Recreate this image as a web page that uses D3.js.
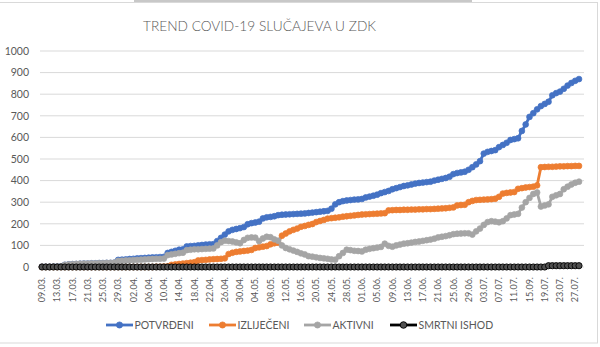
<!DOCTYPE html>
<html>
<head>
<meta charset="utf-8">
<script src="https://cdn.jsdelivr.net/npm/d3@7"></script>
<style>
  html, body { margin: 0; padding: 0; background: #fff; }
  svg { display: block; }
  text { font-family: Lato, "Liberation Sans", Arial, sans-serif; fill: #595959; }
</style>
</head>
<body>
<svg id="chart" width="600" height="347"></svg>
<script>
// ---------------- DATA ----------------
const categories = [
  "09.03.","10.03.","11.03.","12.03.","13.03.","14.03.","15.03.","16.03.","17.03.","18.03.","19.03.","20.03.","21.03.","22.03.","23.03.","24.03.","25.03.","26.03.","27.03.","28.03.","29.03.","30.03.","31.03.",
  "01.04.","02.04.","03.04.","04.04.","05.04.","06.04.","07.04.","08.04.","09.04.","10.04.","11.04.","12.04.","13.04.","14.04.","15.04.","16.04.","17.04.","18.04.","19.04.","20.04.","21.04.","22.04.","23.04.","24.04.","25.04.","26.04.","27.04.","28.04.","29.04.","30.04.",
  "01.05.","02.05.","03.05.","04.05.","05.05.","06.05.","07.05.","08.05.","09.05.","10.05.","11.05.","12.05.","13.05.","14.05.","15.05.","16.05.","17.05.","18.05.","19.05.","20.05.","21.05.","22.05.","23.05.","24.05.","25.05.","26.05.","27.05.","28.05.","29.05.","30.05.","31.05.",
  "01.06.","02.06.","03.06.","04.06.","05.06.","06.06.","07.06.","08.06.","09.06.","10.06.","11.06.","12.06.","13.06.","14.06.","15.06.","16.06.","17.06.","18.06.","19.06.","20.06.","21.06.","22.06.","23.06.","24.06.","25.06.","26.06.","27.06.","28.06.","29.06.","30.06.",
  "01.07.","02.07.","03.07.","04.07.","05.07.","06.07.","07.07.","08.07.","09.07.","10.07.","11.07.","12.07.","13.07.","14.07.","15.09.","16.07.","17.07.","18.07.","19.07.","20.07.","21.07.","22.07.","23.07.","24.07.","25.07.","26.07.","27.07.","28.07."
];

const xTickLabels = ["09.03.","13.03.","17.03.","21.03.","25.03.","29.03.","02.04.","06.04.","10.04.","14.04.","18.04.","22.04.","26.04.","30.04.","04.05.","08.05.","12.05.","16.05.","20.05.","24.05.","28.05.","01.06.","05.06.","09.06.","13.06.","17.06.","21.06.","25.06.","29.06.","03.07.","07.07.","11.07.","15.09.","19.07.","23.07.","27.07."];

const yTicks = [0,100,200,300,400,500,600,700,800,900,1000];

const potvrdeni = [
  1,1,1,2,2,3,
  10,12,13,14,15,16,16,17,17,18,18,19,19,20,
  33,34,35,37,38,40,41,42,43,44,45,46,47,
  65,70,75,80,82,
  95,97,98,100,102,104,105,106,
  120,135,150,165,172,176,180,185,
  198,203,206,210,225,230,232,235,240,
  242,243,244,245,246,247,248,
  250,252,254,256,258,260,
  270,290,300,305,
  308,310,312,313,315,
  322,326,330,335,342,347,352,
  360,365,370,375,378,382,
  386,389,391,393,395,
  400,404,408,412,418,
  430,435,438,441,
  450,462,475,490,525,533,537,541,
  555,565,575,588,592,596,
  630,660,695,712,730,745,
  755,765,795,805,812,825,840,
  852,862,870
];

const izlijeceni = [
  0,0,0,0,0,0,0,0,0,0,0,0,0,0,0,0,0,0,0,0,0,0,0,0,0,0,0,0,
  0,0,1,1,2,3,
  10,12,14,16,18,20,22,
  30,32,33,35,36,37,38,40,
  60,66,70,72,74,76,79,
  88,91,94,97,
  105,110,112,
  145,155,165,172,178,
  186,190,195,199,
  208,213,218,224,
  226,228,230,
  233,235,237,239,241,
  243,244,245,246,247,248,249,
  262,263,264,264,265,265,266,
  266,267,267,268,268,269,270,271,272,274,276,
  285,287,288,
  300,306,310,311,312,313,314,316,
  325,340,343,345,347,
  362,365,368,370,372,
  378,
  462,463,464,464,465,466,466,467,467,468,468
];

const aktivni = [
  1,1,1,2,2,3,
  10,12,13,14,15,16,16,17,17,18,18,19,19,20,
  28,29,30,31,32,33,34,35,36,37,38,38,39,
  55,58,61,64,66,
  78,80,82,82,83,84,85,86,
  100,115,122,120,118,114,110,125,
  135,137,136,
  120,132,140,138,128,122,
  100,88,82,76,70,63,58,
  50,48,45,42,40,38,
  35,34,
  50,65,80,78,75,74,72,
  80,84,87,90,93,
  108,98,94,100,104,108,110,113,
  116,118,121,124,127,131,
  137,140,143,147,
  152,154,155,156,156,
  150,165,178,195,208,212,210,
  207,212,225,240,243,246,
  275,300,320,338,345,
  280,285,290,325,332,338,360,372,382,390,395
];

const smrtniIshod = [
  0,0,0,0,0,0,0,0,0,0,0,0,0,0,0,0,0,0,0,0,0,0,0,0,0,0,0,0,0,0,
  0,0,0,0,0,0,0,0,0,0,0,0,0,0,0,0,0,0,0,0,0,0,0,0,0,0,0,0,0,0,
  0,0,0,0,0,0,0,0,0,0,0,0,0,0,0,0,0,0,0,0,0,0,0,0,0,0,0,0,0,0,
  0,0,0,0,0,0,0,0,0,0,0,0,0,0,0,0,0,0,0,0,0,0,0,0,0,0,0,0,0,0,
  0,0,0,0,0,0,0,0,0,0,0,0,0,
  6,6,6,6,6,6,6,6,6
];

const seriesNames = ["POTVRĐENI","IZLIJEČENI","AKTIVNI","SMRTNI ISHOD"];
const seriesValues = [potvrdeni, izlijeceni, aktivni, smrtniIshod];

// ---------------- STYLE ----------------
const styles = [
  {line:"#4472C4", fill:"#4472C4", stroke:"#4472C4", r:2.9, sw:0.75},
  {line:"#ED7D31", fill:"#ED7D31", stroke:"#ED7D31", r:2.9, sw:0.75},
  {line:"#A5A5A5", fill:"#A5A5A5", stroke:"#A5A5A5", r:2.9, sw:0.75},
  {line:"#000000", fill:"#505050", stroke:"#000000", r:3.1, sw:0.9}
];

const svg = d3.select("#chart");

// chart border + top strip
svg.append("rect").attr("x",134).attr("y",0).attr("width",338).attr("height",2.5).attr("fill","#c8c8c8");
svg.append("rect").attr("x",-1).attr("y",2.5).attr("width",598.5).attr("height",340.5)
  .attr("fill","none").attr("stroke","#d9d9d9").attr("stroke-width",1);

const plotLeft = 40, plotRight = 584;
const x = d3.scalePoint().domain(categories).range([42, 579]);
const y = d3.scaleLinear().domain([0,1000]).range([267, 51]);

// gridlines
svg.append("g").selectAll("line").data(yTicks).join("line")
  .attr("x1",plotLeft).attr("x2",plotRight)
  .attr("y1",d=>y(d)).attr("y2",d=>y(d))
  .attr("stroke","#d9d9d9").attr("stroke-width",1);

// y labels
svg.append("g").selectAll("text").data(yTicks).join("text")
  .attr("x",29).attr("y",d=>y(d)).attr("dy","0.36em")
  .attr("text-anchor","end").attr("font-size","10.5px")
  .text(d=>d);

// x labels (rotated)
const xg = svg.append("g");
xg.selectAll("text").data(xTickLabels).join("text")
  .attr("transform",d=>`translate(${x(d)+3.2},277) rotate(-90)`)
  .attr("text-anchor","end").attr("font-size","9px")
  .text(d=>d);

// title (fit to reference width)
const title = svg.append("text").attr("x",259.5).attr("y",31).attr("text-anchor","middle")
  .attr("font-size","15px").attr("font-weight",300).text("TREND COVID-19 SLUČAJEVA U ZDK");
const tw = title.node().getComputedTextLength();
if (tw > 0) title.attr("font-size", (15 * 233 / tw).toFixed(2) + "px");

// series
const lineGen = d3.line().x((d,i)=>x(categories[i])).y(d=>y(d));
seriesValues.forEach((vals, k) => {
  const s = styles[k];
  const g = svg.append("g");
  g.append("path").datum(vals).attr("d",lineGen)
    .attr("fill","none").attr("stroke",s.line).attr("stroke-width",2.8)
    .attr("stroke-linejoin","round").attr("stroke-linecap","round");
  g.selectAll("circle").data(vals).join("circle")
    .attr("cx",(d,i)=>x(categories[i])).attr("cy",d=>y(d)).attr("r",s.r)
    .attr("fill",s.fill).attr("stroke",s.stroke).attr("stroke-width",s.sw);
});

// legend
const legendX = [106, 209, 304, 390];
const leg = svg.append("g");
seriesNames.forEach((name,k)=>{
  const s = styles[k];
  const lx = legendX[k];
  leg.append("line").attr("x1",lx).attr("x2",lx+27).attr("y1",325).attr("y2",325)
    .attr("stroke",s.line).attr("stroke-width",2.8);
  leg.append("circle").attr("cx",lx+13.5).attr("cy",325).attr("r",s.r+0.2)
    .attr("fill",s.fill).attr("stroke",s.stroke).attr("stroke-width",s.sw);
  leg.append("text").attr("x",lx+28.5).attr("y",325).attr("dy","0.36em")
    .attr("font-size","10.5px").text(name);
});
</script>
</body>
</html>
